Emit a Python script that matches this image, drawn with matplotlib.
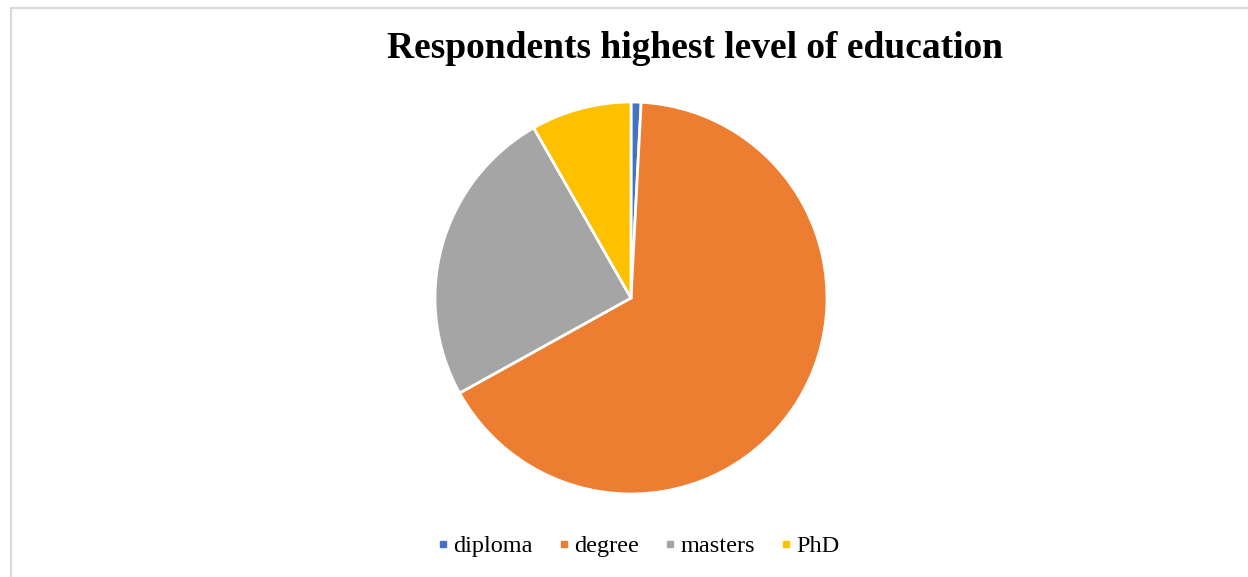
import matplotlib.pyplot as plt
from matplotlib.lines import Line2D

labels = ['diploma', 'degree', 'masters', 'PhD']
counts = [1, 80, 30, 10]
colors = ['#4472C4', '#ED7D31', '#A5A5A5', '#FFC000']

plt.rcParams['font.family'] = ['Liberation Serif', 'DejaVu Serif']

fig = plt.figure(figsize=(12.48, 5.77), dpi=100)

# chart frame (light grey border, clipped by the image on right/bottom)
frame = plt.Rectangle((11 / 1248, -0.05), 1.2, (577 - 7.5) / 577 + 0.05,
                      transform=fig.transFigure, fill=False,
                      edgecolor='#d9d9d9', linewidth=1.5)
fig.patches.append(frame)

r = 196
cx, cy = 631, 298
ax = fig.add_axes([(cx - r) / 1248, (577 - cy - r) / 577, 2 * r / 1248, 2 * r / 577])
ax.pie(counts, colors=colors, startangle=90, counterclock=False,
       wedgeprops={'edgecolor': 'white', 'linewidth': 2})
ax.set_xlim(-1, 1)
ax.set_ylim(-1, 1)
ax.set_aspect('equal')

fig.text(695 / 1248, 1 - 48 / 577, 'Respondents highest level of education',
         ha='center', va='center', fontsize=27, fontweight='bold')

handles = [Line2D([], [], marker='s', linestyle='none', markersize=5,
                  markerfacecolor=c, markeredgecolor=c) for c in colors]
fig.legend(handles, labels, loc='center', bbox_to_anchor=(637 / 1248, 1 - 546 / 577),
           ncol=4, frameon=False, fontsize=17.5, handletextpad=0.05,
           columnspacing=0.95, handlelength=0.7)

plt.savefig('out.png', dpi=100)
